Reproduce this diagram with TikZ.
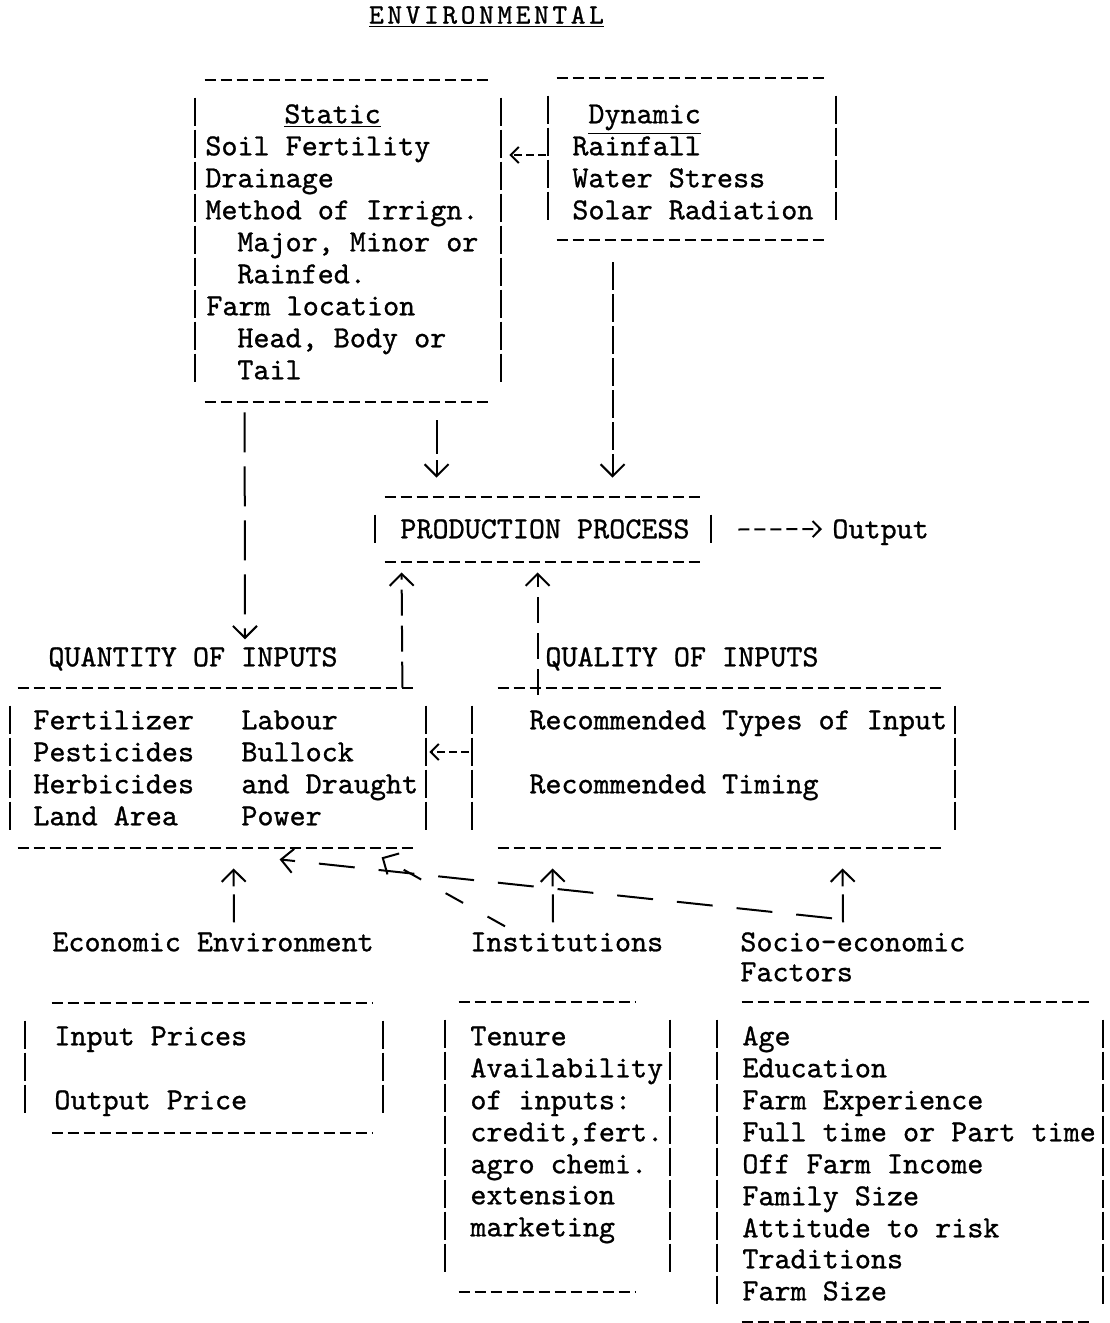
\documentclass[tikz,border=0pt]{standalone}
\usepackage{fontspec}
\usepackage{tikz}
\usetikzlibrary{arrows.meta,calc,fit,positioning}
\newfontfamily\tyfont[FakeBold=0.9]{lmmono10-regular.otf}
\newfontfamily\titlefont[LetterSpace=13,FakeBold=0.9]{lmmono10-regular.otf}

% dashed rules on top and bottom, typed bars on the sides
\newcommand{\tyframe}[3]{%
  \draw[rule] ($(#1.north west)+(#2,0)$) -- ($(#1.north east)+(-#3,0)$)
              ($(#1.south west)+(#2,0)$) -- ($(#1.south east)+(-#3,0)$);
  \draw[bar] ($(#1.north west)+(0,18)$) -- ($(#1.south west)+(0,-18)$)
             ($(#1.north east)+(0,18)$) -- ($(#1.south east)+(0,-18)$);
}

\begin{document}
\begin{tikzpicture}[x=0.5pt, y=-0.5pt,
    txt/.style = {font=\tyfont\fontsize{15.3pt}{16pt}\selectfont, inner sep=0pt, anchor=west, text height=9.3pt, text depth=0pt},
    frame/.style = {inner sep=0pt, draw=none},
    rule/.style = {line width=1pt, dash pattern=on 5.5pt off 2.5pt},
    bar/.style = {line width=1pt, dash pattern=on 14pt off 2pt},
    conn/.style = {line width=1pt, -{Straight Barb[length=6pt,width=12pt]}},
    small/.style = {line width=1pt, -{Straight Barb[length=4pt,width=8pt]}}, ]
  \useasboundingbox (0,0) rectangle (1109,1323);

  \node[font=\titlefont\fontsize{14pt}{16pt}\selectfont, anchor=west] (env) at (362,17) {\underline{ENVIRONMENTAL}};

  % static factors
  \node[frame, fit={(195,80) (501,402)}] (static) {};
  \tyframe{static}{10}{11}
  \node[txt] (st1) at (284,114) {\underline{Static}};
  \node[txt] (st2) at (205,146) {Soil Fertility};
  \node[txt] (st3) at (205,178) {Drainage};
  \node[txt] (st4) at (205,210) {Method of Irrign.};
  \node[txt] (st5) at (237,242) {Major, Minor or};
  \node[txt] (st6) at (237,274) {Rainfed.};
  \node[txt] (st7) at (206,306) {Farm location};
  \node[txt] (st8) at (237,338) {Head, Body or};
  \node[txt] (st9) at (237,370) {Tail};

  % dynamic factors
  \node[frame, fit={(548,78) (836,240)}] (dynamic) {};
  \tyframe{dynamic}{9}{10}
  \node[txt] (dy1) at (588,114) {\underline{Dynamic}};
  \node[txt] (dy2) at (572,146) {Rainfall};
  \node[txt] (dy3) at (572,178) {Water Stress};
  \node[txt] (dy4) at (572,210) {Solar Radiation};

  % production
  \node[frame, fit={(375,497) (711,562)}] (prod) {};
  \tyframe{prod}{10}{11}
  \node[txt] (pr1) at (400,529) {PRODUCTION PROCESS};
  \node[txt] (output) at (832,529) {Output};

  % inputs
  \node[txt] (qtylbl) at (48,657) {QUANTITY OF INPUTS};
  \node[txt] (quallbl) at (545,657) {QUALITY OF INPUTS};
  \node[frame, fit={(10,688) (426,848)}] (qty) {};
  \tyframe{qty}{8}{11}
  \node[txt] (qt1) at (33,720) {Fertilizer};
  \node[txt] (qt2) at (33,752) {Pesticides};
  \node[txt] (qt3) at (33,784) {Herbicides};
  \node[txt] (qt4) at (33,816) {Land Area};
  \node[txt] (qt5) at (241,720) {Labour};
  \node[txt] (qt6) at (241,752) {Bullock};
  \node[txt] (qt7) at (241,784) {and Draught};
  \node[txt] (qt8) at (241,816) {Power};
  \node[frame, fit={(472,688) (955,848)}] (qual) {};
  \tyframe{qual}{26}{13}
  \node[txt] (ql1) at (529,720) {Recommended Types of Input};
  \node[txt] (ql2) at (529,784) {Recommended Timing};

  % economic environment
  \node[txt] (econlbl) at (52,942) {Economic Environment};
  \node[frame, fit={(25,1003) (383,1133)}] (econ) {};
  \tyframe{econ}{27}{11}
  \node[txt] (ec1) at (54,1036) {Input Prices};
  \node[txt] (ec2) at (54,1100) {Output Price};

  % institutions
  \node[txt] (instlbl) at (470,942) {Institutions};
  \node[frame, fit={(445,1002) (670,1292)}] (inst) {};
  \tyframe{inst}{14}{34}
  \node[txt] (in1) at (470,1036) {Tenure};
  \node[txt] (in2) at (470,1068) {Availability};
  \node[txt] (in3) at (470,1100) {of inputs:};
  \node[txt] (in4) at (470,1132) {credit,fert.};
  \node[txt] (in5) at (470,1164) {agro chemi.};
  \node[txt] (in6) at (470,1195) {extension};
  \node[txt] (in7) at (470,1227) {marketing};

  % socio-economic factors
  \node[txt] (sociolbl) at (740,942) {Socio-economic};
  \node[txt] (sociolbl2) at (740,972) {Factors};
  \node[frame, fit={(717,1002) (1103,1322)}] (socio) {};
  \tyframe{socio}{25}{13}
  \node[txt] (so1) at (742,1036) {Age};
  \node[txt] (so2) at (742,1068) {Education};
  \node[txt] (so3) at (742,1100) {Farm Experience};
  \node[txt] (so4) at (742,1132) {Full time or Part time};
  \node[txt] (so5) at (742,1164) {Off Farm Income};
  \node[txt] (so6) at (742,1196) {Family Size};
  \node[txt] (so7) at (742,1228) {Attitude to risk};
  \node[txt] (so8) at (742,1259) {Traditions};
  \node[txt] (so9) at (742,1291) {Farm Size};

  % connectors
  \draw[small, dash pattern=on 4pt off 2pt] ($(dynamic.west)+(-2,-4)$) -- ($(static.east)+(8,-86)$);
  \draw[conn, dash pattern=on 20pt off 7pt] ($(static.south west)+(50,10)$) -- ($(qtylbl.north west)+(197,-8)$);
  \draw[conn, dash pattern=on 17pt off 3pt] ($(static.south west)+(242,18)$) -- ($(prod.north west)+(62,-19)$);
  \draw[conn, dash pattern=on 14pt off 2pt] ($(dynamic.south west)+(65,22)$) -- ($(prod.north west)+(238,-19)$);
  \draw[small, rule] ($(prod.east)+(27,0)$) -- ($(output.west)+(-10,0)$);
  \draw[conn, dash pattern=on 13pt off 5pt] ($(qty.north east)+(-24,0)$) -- ($(prod.south west)+(27,10)$);
  \draw[conn, dash pattern=on 13pt off 5pt] ($(qual.north west)+(66,7)$) -- ($(prod.south west)+(163,10)$);
  \draw[small, dash pattern=on 4pt off 2pt] ($(qual.west)+(-3,-16)$) -- ($(qty.east)+(3,-16)$);
  \draw[conn, dash pattern=on 14pt off 4pt] ($(econlbl.north west)+(182,-10)$) -- ($(qty.south west)+(224,20)$);
  \draw[conn, dash pattern=on 14pt off 4pt] ($(instlbl.north west)+(83,-10)$) -- ($(qual.south west)+(81,20)$);
  \draw[conn, dash pattern=on 14pt off 4pt] ($(sociolbl.north west)+(103,-10)$) -- ($(qual.south west)+(371,20)$);
  \draw[conn, dash pattern=on 18pt off 12pt] ($(sociolbl.north west)+(92,-14)$) -- ($(qty.south west)+(270,11)$);
  \draw[conn, dash pattern=on 10pt off 14pt] ($(instlbl.north west)+(35,-6)$) -- ($(qty.south west)+(372,9)$);
\end{tikzpicture}
\end{document}
